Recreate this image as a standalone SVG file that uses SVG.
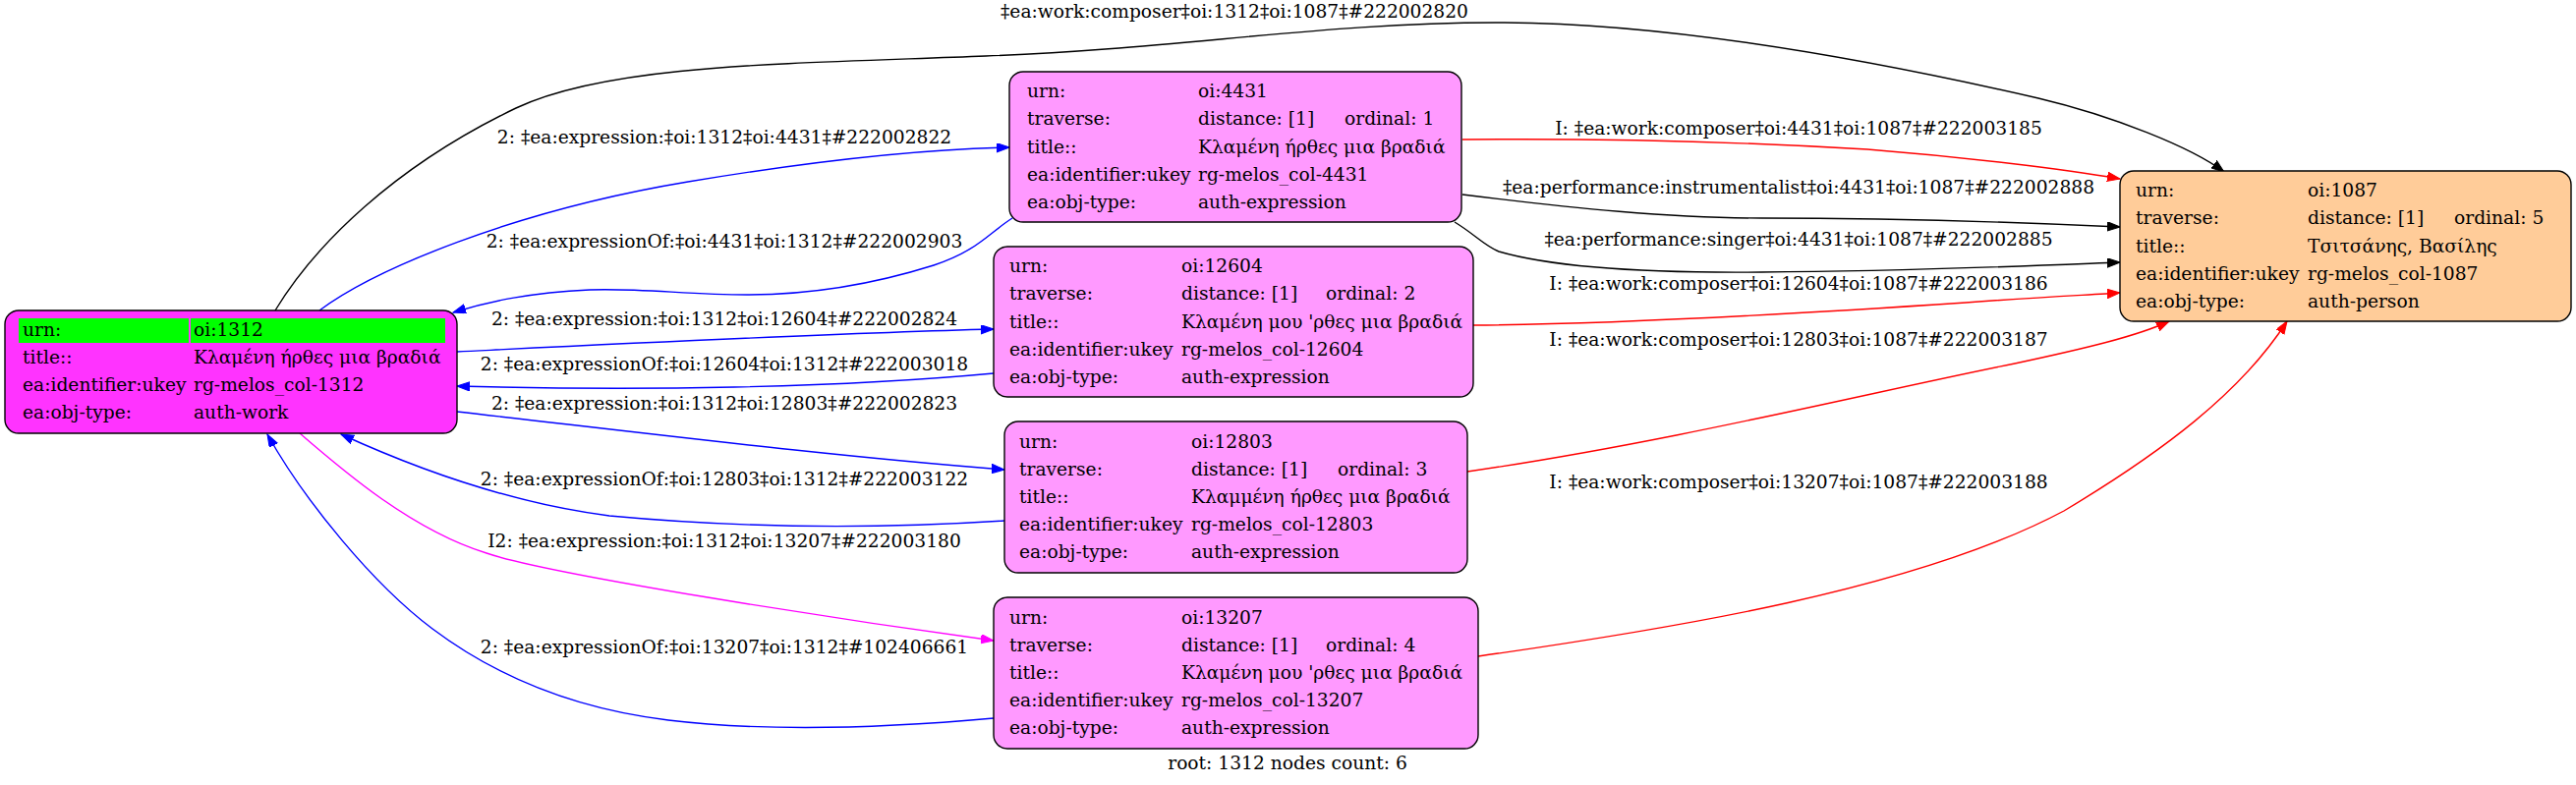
<svg xmlns="http://www.w3.org/2000/svg" width="2621" height="799" viewBox="0 0 2621 799">
<style>
text{font-family:"DejaVu Serif","Liberation Serif",serif;font-size:18.67px;fill:#000}
.lbl{text-anchor:middle}
.node rect.box{stroke:#000;stroke-width:1.4}
.work{fill:#ff33ff}
.expr{fill:#ff99ff}
.pers{fill:#ffcc99}
.green{fill:#00ff00}
.e{fill:none;stroke-width:1.4}
.blk{stroke:#000}
.blu{stroke:#0000ff}
.red{stroke:#ff0000}
.mag{stroke:#ff00ff}
</style>
<defs>
<marker id="mk" markerUnits="userSpaceOnUse" markerWidth="14" markerHeight="10" refX="13" refY="4.7" orient="auto"><path d="M0,0 L13,4.7 L0,9.4 z" fill="#000" stroke="#000"/></marker>
<marker id="mb" markerUnits="userSpaceOnUse" markerWidth="14" markerHeight="10" refX="13" refY="4.7" orient="auto"><path d="M0,0 L13,4.7 L0,9.4 z" fill="#0000ff" stroke="#0000ff"/></marker>
<marker id="mr" markerUnits="userSpaceOnUse" markerWidth="14" markerHeight="10" refX="13" refY="4.7" orient="auto"><path d="M0,0 L13,4.7 L0,9.4 z" fill="#ff0000" stroke="#ff0000"/></marker>
<marker id="mm" markerUnits="userSpaceOnUse" markerWidth="14" markerHeight="10" refX="13" refY="4.7" orient="auto"><path d="M0,0 L13,4.7 L0,9.4 z" fill="#ff00ff" stroke="#ff00ff"/></marker>
</defs>
<rect width="2621" height="799" fill="#fff"/>

<g id="edges">
<path class="e blk" marker-end="url(#mk)" d="M280,316 C320,250 400,170 525,110 C620,65 800,65 1003,57 C1200,50 1350,22 1531,23 C1700,24 1900,60 2074,100 C2150,118 2230,150 2263,175"/>
<text class="lbl" x="1256" y="18">‡ea:work:composer‡oi:1312‡oi:1087‡#222002820</text>

<path class="e blu" marker-end="url(#mb)" d="M325,316 C380,275 520,215 700,185 C820,165 930,152 1027,150"/>
<text class="lbl" x="737" y="146">2: ‡ea:expression:‡oi:1312‡oi:4431‡#222002822</text>

<path class="e blu" marker-end="url(#mb)" d="M1030,222 C1005,238 995,255 950,270 C880,292 820,300 760,300 C700,300 650,293 600,295 C540,298 500,306 461,318"/>
<text class="lbl" x="737" y="252">2: ‡ea:expressionOf:‡oi:4431‡oi:1312‡#222002903</text>

<path class="e blu" marker-end="url(#mb)" d="M465,358 C650,349 850,339 1011,335"/>
<text class="lbl" x="737" y="331">2: ‡ea:expression:‡oi:1312‡oi:12604‡#222002824</text>

<path class="e blu" marker-end="url(#mb)" d="M1011,380 C850,395 650,398 465,393"/>
<text class="lbl" x="737" y="377">2: ‡ea:expressionOf:‡oi:12604‡oi:1312‡#222003018</text>

<path class="e blu" marker-end="url(#mb)" d="M465,419 C650,440 850,465 1022,478"/>
<text class="lbl" x="737" y="417">2: ‡ea:expression:‡oi:1312‡oi:12803‡#222002823</text>

<path class="e blu" marker-end="url(#mb)" d="M1022,530 C900,538 760,538 620,525 C520,512 430,480 347,442"/>
<text class="lbl" x="737" y="494">2: ‡ea:expressionOf:‡oi:12803‡oi:1312‡#222003122</text>

<path class="e mag" marker-end="url(#mm)" d="M305,441 C350,480 420,540 495,563 C560,585 850,630 1011,652"/>
<text class="lbl" x="737" y="557">I2: ‡ea:expression:‡oi:1312‡oi:13207‡#222003180</text>

<path class="e blu" marker-end="url(#mb)" d="M1011,731 C900,741 780,745 680,733 C580,721 500,685 440,640 C380,595 310,510 272,442"/>
<text class="lbl" x="737" y="665">2: ‡ea:expressionOf:‡oi:13207‡oi:1312‡#102406661</text>

<path class="e red" marker-end="url(#mr)" d="M1488,142 C1600,141 1750,143 1900,152 C2000,160 2100,172 2157,182"/>
<text class="lbl" x="1830" y="137">I: ‡ea:work:composer‡oi:4431‡oi:1087‡#222003185</text>

<path class="e blk" marker-end="url(#mk)" d="M1488,198 C1600,212 1700,222 1792,222 C1900,222 2050,226 2157,231"/>
<text class="lbl" x="1830" y="197">‡ea:performance:instrumentalist‡oi:4431‡oi:1087‡#222002888</text>

<path class="e blk" marker-end="url(#mk)" d="M1480,226 C1500,238 1510,250 1525,256 C1580,272 1680,278 1792,277 C1950,276 2080,270 2157,267"/>
<text class="lbl" x="1830" y="250">‡ea:performance:singer‡oi:4431‡oi:1087‡#222002885</text>

<path class="e red" marker-end="url(#mr)" d="M1499,331 C1650,330 1850,318 2000,308 C2080,302 2130,300 2157,298"/>
<text class="lbl" x="1830" y="295">I: ‡ea:work:composer‡oi:12604‡oi:1087‡#222003186</text>

<path class="e red" marker-end="url(#mr)" d="M1493,480 C1700,450 1900,400 2050,370 C2120,355 2175,342 2207,327"/>
<text class="lbl" x="1830" y="352">I: ‡ea:work:composer‡oi:12803‡oi:1087‡#222003187</text>

<path class="e red" marker-end="url(#mr)" d="M1504,668 C1700,640 1950,600 2100,520 C2200,460 2280,400 2327,327"/>
<text class="lbl" x="1830" y="497">I: ‡ea:work:composer‡oi:13207‡oi:1087‡#222003188</text>
</g>

<g id="n1312" class="node">
<rect class="box work" x="5" y="316" width="460" height="125" rx="14"/>
<rect class="green" x="19" y="324" width="173" height="25"/>
<rect class="green" x="194" y="324" width="259" height="25"/>
<text x="23" y="342">urn:</text><text x="197" y="342">oi:1312</text>
<text x="23" y="370">title::</text><text x="197" y="370">Κλαμένη ήρθες μια βραδιά</text>
<text x="23" y="398">ea:identifier:ukey</text><text x="197" y="398">rg-melos_col-1312</text>
<text x="23" y="426">ea:obj-type:</text><text x="197" y="426">auth-work</text>
</g>

<g id="n4431" class="node">
<rect class="box expr" x="1027" y="73" width="460" height="153" rx="14"/>
<text x="1045" y="99">urn:</text><text x="1219" y="99">oi:4431</text>
<text x="1045" y="127">traverse:</text><text x="1219" y="127">distance: [1]</text><text x="1368" y="127">ordinal: 1</text>
<text x="1045" y="156">title::</text><text x="1219" y="156">Κλαμένη ήρθες μια βραδιά</text>
<text x="1045" y="184">ea:identifier:ukey</text><text x="1219" y="184">rg-melos_col-4431</text>
<text x="1045" y="212">ea:obj-type:</text><text x="1219" y="212">auth-expression</text>
</g>

<g id="n12604" class="node">
<rect class="box expr" x="1011" y="251" width="488" height="153" rx="14"/>
<text x="1027" y="277">urn:</text><text x="1202" y="277">oi:12604</text>
<text x="1027" y="305">traverse:</text><text x="1202" y="305">distance: [1]</text><text x="1349" y="305">ordinal: 2</text>
<text x="1027" y="334">title::</text><text x="1202" y="334">Κλαμένη μου 'ρθες μια βραδιά</text>
<text x="1027" y="362">ea:identifier:ukey</text><text x="1202" y="362">rg-melos_col-12604</text>
<text x="1027" y="390">ea:obj-type:</text><text x="1202" y="390">auth-expression</text>
</g>

<g id="n12803" class="node">
<rect class="box expr" x="1022" y="429" width="471" height="154" rx="14"/>
<text x="1037" y="456">urn:</text><text x="1212" y="456">oi:12803</text>
<text x="1037" y="484">traverse:</text><text x="1212" y="484">distance: [1]</text><text x="1361" y="484">ordinal: 3</text>
<text x="1037" y="512">title::</text><text x="1212" y="512">Κλαμμένη ήρθες μια βραδιά</text>
<text x="1037" y="540">ea:identifier:ukey</text><text x="1212" y="540">rg-melos_col-12803</text>
<text x="1037" y="568">ea:obj-type:</text><text x="1212" y="568">auth-expression</text>
</g>

<g id="n13207" class="node">
<rect class="box expr" x="1011" y="608" width="493" height="154" rx="14"/>
<text x="1027" y="635">urn:</text><text x="1202" y="635">oi:13207</text>
<text x="1027" y="663">traverse:</text><text x="1202" y="663">distance: [1]</text><text x="1349" y="663">ordinal: 4</text>
<text x="1027" y="691">title::</text><text x="1202" y="691">Κλαμένη μου 'ρθες μια βραδιά</text>
<text x="1027" y="719">ea:identifier:ukey</text><text x="1202" y="719">rg-melos_col-13207</text>
<text x="1027" y="747">ea:obj-type:</text><text x="1202" y="747">auth-expression</text>
</g>

<g id="n1087" class="node">
<rect class="box pers" x="2157" y="174" width="459" height="153" rx="14"/>
<text x="2173" y="200">urn:</text><text x="2348" y="200">oi:1087</text>
<text x="2173" y="228">traverse:</text><text x="2348" y="228">distance: [1]</text><text x="2497" y="228">ordinal: 5</text>
<text x="2173" y="257">title::</text><text x="2348" y="257">Τσιτσάνης, Βασίλης</text>
<text x="2173" y="285">ea:identifier:ukey</text><text x="2348" y="285">rg-melos_col-1087</text>
<text x="2173" y="313">ea:obj-type:</text><text x="2348" y="313">auth-person</text>
</g>

<text id="caption" class="lbl" x="1310" y="783">root: 1312 nodes count: 6</text>
</svg>
